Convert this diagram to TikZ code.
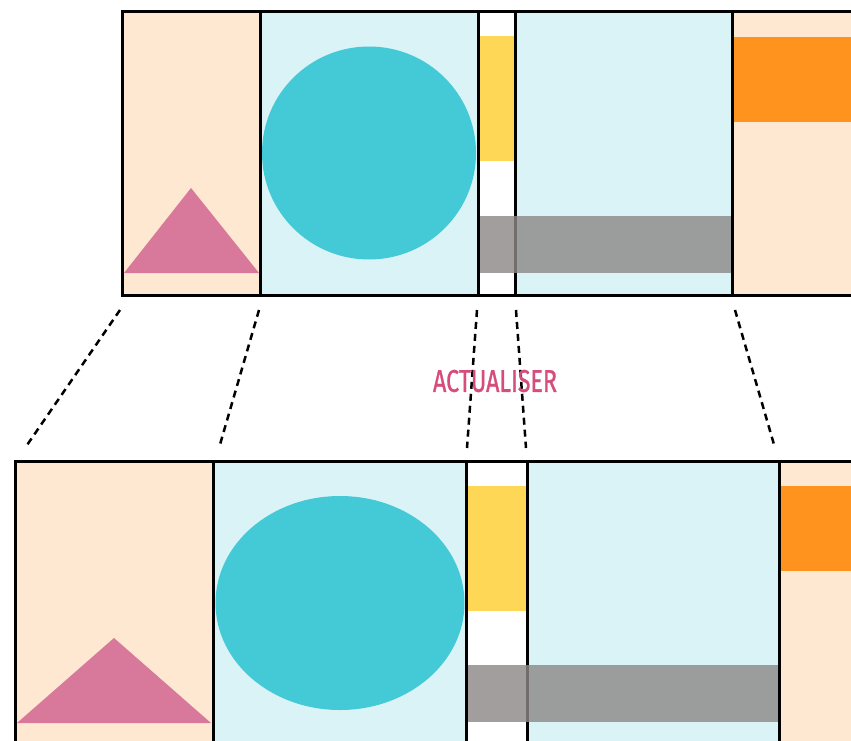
\documentclass[tikz,border=0pt]{standalone}
\usepackage{fontspec}
\newfontfamily\labelfont[FakeBold=1.2]{Fira Sans}
\definecolor{peach}{HTML}{FEE8D2}
\definecolor{icecyan}{HTML}{DAF3F7}
\definecolor{tealc}{HTML}{44CAD7}
\definecolor{pinkc}{HTML}{D8789A}
\definecolor{yellowc}{HTML}{FFD757}
\definecolor{orangec}{HTML}{FF931E}
\definecolor{grayc}{RGB}{141,136,136}
\definecolor{labelc}{HTML}{D64C7A}
\tikzset{
  border/.style={line width=3pt, black},
  guide/.style={line width=2.5pt, dash pattern=on 7pt off 5pt},
  band/.style={fill=grayc, fill opacity=0.81},
}
\begin{document}
\begin{tikzpicture}[x=1pt,y=-1pt]
\useasboundingbox (0,0) rectangle (851,741);
% ---------- top strip ----------
\fill[peach] (122,12) rectangle (260,295);
\fill[icecyan] (260,12) rectangle (478,295);
\fill[white] (478,12) rectangle (515,295);
\fill[icecyan] (515,12) rectangle (732,295);
\fill[peach] (732,12) rectangle (851,295);
\fill[pinkc] (124,273) -- (191,188) -- (259,273) -- cycle;
\fill[tealc] (369,153) ellipse [x radius=107, y radius=106.5];
\fill[yellowc] (479,36) rectangle (514,161);
\fill[orangec] (733,37) rectangle (851,122);
\draw[border] (851,12) -- (122,12) -- (122,295) -- (851,295);
\draw[border] (260,12) -- (260,295);
\draw[border] (478,12) -- (478,295);
\draw[border] (515,12) -- (515,295);
\draw[border] (732,12) -- (732,295);
\fill[band] (479.5,216) rectangle (730.5,273);
% ---------- bottom strip ----------
\fill[peach] (15,461) rectangle (213,741);
\fill[icecyan] (213,461) rectangle (466,741);
\fill[white] (466,461) rectangle (527,741);
\fill[icecyan] (527,461) rectangle (779,741);
\fill[peach] (779,461) rectangle (851,741);
\fill[pinkc] (17,723) -- (114,638) -- (211,723) -- cycle;
\fill[tealc] (340,603) ellipse [x radius=124.5, y radius=107];
\fill[yellowc] (467,486) rectangle (526,611);
\fill[orangec] (780,486) rectangle (851,571);
\draw[border] (851,461) -- (15,461) -- (15,745);
\draw[border] (213,461) -- (213,745);
\draw[border] (466,461) -- (466,745);
\draw[border] (527,461) -- (527,745);
\draw[border] (779,461) -- (779,745);
\fill[band] (467.5,665) rectangle (777.5,722);
% ---------- guides ----------
\coordinate (t1) at (120,310); \coordinate (b1) at (25,448);
\coordinate (t2) at (259,310); \coordinate (b2) at (219,448);
\coordinate (t3) at (477,310); \coordinate (b3) at (467,448);
\coordinate (t4) at (516,310); \coordinate (b4) at (526,448);
\coordinate (t5) at (735,310); \coordinate (b5) at (775,448);
\foreach \i in {1,...,5} \draw[guide] (t\i) -- (b\i);
\node[text=labelc, inner sep=0pt] (lbl) at (495,381)
  {\resizebox{124pt}{22pt}{\labelfont ACTUALISER}};
\end{tikzpicture}
\end{document}
